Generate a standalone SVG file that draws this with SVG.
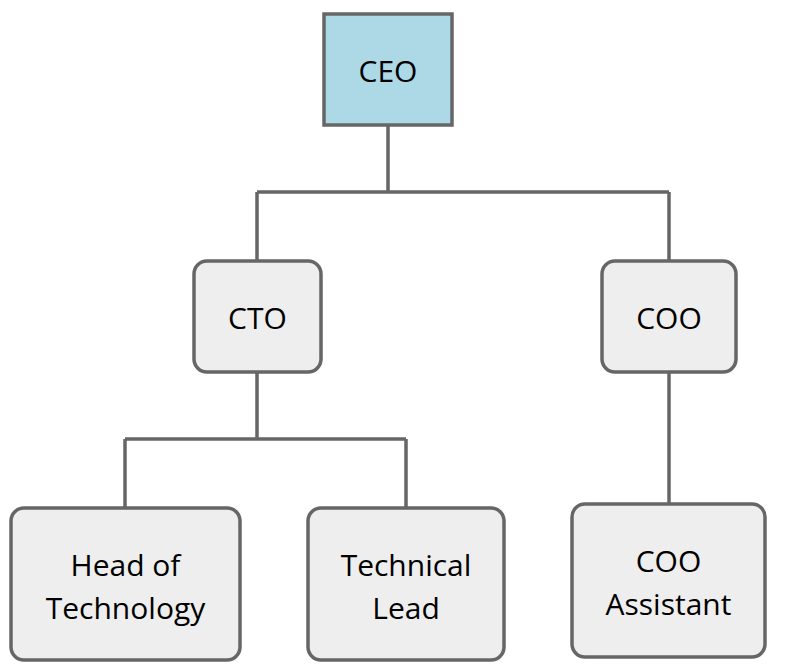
<svg xmlns="http://www.w3.org/2000/svg" width="795" height="671" viewBox="0 0 795 671">
<style>
.n{fill:#eeeeee;stroke:#666666;stroke-width:3.5}
.ceo{fill:#add8e6;stroke:#666666;stroke-width:3.5}
.t{font-family:"Open Sans","Noto Sans",sans-serif;font-size:30px;fill:#000;text-anchor:middle;dominant-baseline:central}
.c{fill:none;stroke:#666666;stroke-width:3.5}
</style>
<rect width="795" height="671" fill="#ffffff"/>
<g id="connectors">
<path class="c" d="M388,125 V192 M257,192 H669 M257,192 V261 M669,192 V261"/>
<path class="c" d="M257,372 V439 M125,439 H406 M125,439 V508 M406,439 V508"/>
<path class="c" d="M669,372 V504"/>
</g>
<g id="ceo">
<rect class="ceo" x="324" y="14" width="128" height="111"/>
<text class="t" x="388" y="70">CEO</text>
</g>
<g id="cto">
<rect class="n" x="194" y="261" width="127" height="111" rx="13"/>
<text class="t" x="257.5" y="317">CTO</text>
</g>
<g id="coo">
<rect class="n" x="602" y="261" width="134" height="111" rx="13"/>
<text class="t" x="669" y="317">COO</text>
</g>
<g id="head-of-technology">
<rect class="n" x="11" y="508" width="229" height="152" rx="13"/>
<text class="t" x="125.5" y="564">Head of</text>
<text class="t" x="125.5" y="607">Technology</text>
</g>
<g id="technical-lead">
<rect class="n" x="308" y="508" width="196" height="152" rx="13"/>
<text class="t" x="406" y="564">Technical</text>
<text class="t" x="406" y="607">Lead</text>
</g>
<g id="coo-assistant">
<rect class="n" x="572" y="504" width="193" height="153" rx="13"/>
<text class="t" x="668.5" y="560">COO</text>
<text class="t" x="668.5" y="603">Assistant</text>
</g>
</svg>
